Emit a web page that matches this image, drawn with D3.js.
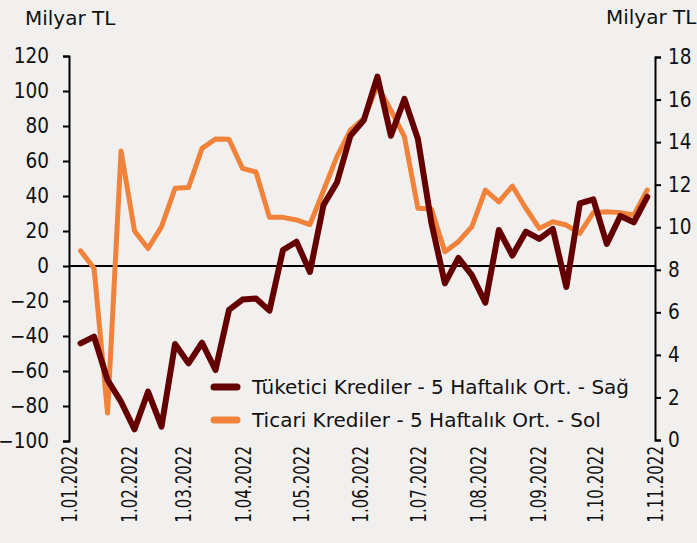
<!DOCTYPE html>
<html>
<head>
<meta charset="utf-8">
<script src="https://cdn.jsdelivr.net/npm/d3@7"></script>
<style>
  html, body { margin: 0; padding: 0; background: #f2f0ef; overflow: hidden; }
  svg { display: block; }
  text { font-family: "DejaVu Sans", "Liberation Sans", sans-serif; fill: #111; }
</style>
</head>
<body>
<script>
// ---- data ----
const weeks = [
  "2022-01-07","2022-01-14","2022-01-21","2022-01-28",
  "2022-02-04","2022-02-11","2022-02-18","2022-02-25",
  "2022-03-04","2022-03-11","2022-03-18","2022-03-25",
  "2022-04-01","2022-04-08","2022-04-15","2022-04-22","2022-04-29",
  "2022-05-06","2022-05-13","2022-05-20","2022-05-27",
  "2022-06-03","2022-06-10","2022-06-17","2022-06-24",
  "2022-07-01","2022-07-08","2022-07-15","2022-07-22","2022-07-29",
  "2022-08-05","2022-08-12","2022-08-19","2022-08-26",
  "2022-09-02","2022-09-09","2022-09-16","2022-09-23","2022-09-30",
  "2022-10-07","2022-10-14","2022-10-21","2022-10-28"
];
// Tüketici Krediler - 5 Haftalık Ort. (right axis)
const tuketici = [
  4.54, 4.86, 2.82, 1.80,
  0.50, 2.27, 0.63, 4.51,
  3.60, 4.57, 3.29, 6.11,
  6.60, 6.65, 6.08, 8.93, 9.32,
  7.90, 11.04, 12.10, 14.30,
  15.04, 17.08, 14.30, 16.03,
  14.15, 10.20, 7.36, 8.56, 7.75,
  6.45, 9.87, 8.67, 9.79,
  9.45, 9.92, 7.19, 11.12, 11.31,
  9.22, 10.53, 10.23, 11.43
];
// Ticari Krediler - 5 Haftalık Ort. (left axis)
const ticari = [
  8.7, -1.3, -84, 65.7,
  20, 10, 22.5, 44.4,
  44.8, 67.2, 72.6, 72.4,
  55.8, 53.7, 27.8, 27.8, 26.3,
  23.7, 43, 62.5, 77.7,
  84.4, 103, 89, 73.9,
  33, 32.5, 8.2, 13.9, 22.5,
  43.4, 36.7, 45.7, 33,
  21.5, 25.3, 23.4, 18.7, 30.5,
  31, 30.5, 29.1, 43.4
];
const leftTicks = [-100, -80, -60, -40, -20, 0, 20, 40, 60, 80, 100, 120];
const rightTicks = [0, 2, 4, 6, 8, 10, 12, 14, 16, 18];
const monthTicks = ["2022-01-01","2022-02-01","2022-03-01","2022-04-01","2022-05-01","2022-06-01",
                    "2022-07-01","2022-08-01","2022-09-01","2022-10-01","2022-11-01"];
const seriesNames = ["Tüketici Krediler - 5 Haftalık Ort. - Sağ", "Ticari Krediler - 5 Haftalık Ort. - Sol"];
const unitLabel = "Milyar TL";
const colors = { tuketici: "#640000", ticari: "#f0823a" };

// ---- chart ----
const W = 697, H = 543;
const condensed = '"DejaVu Sans Condensed", "DejaVu Sans", sans-serif';
const parse = d3.utcParse("%Y-%m-%d");
const svg = d3.select("body").append("svg").attr("width", W).attr("height", H);
svg.append("rect").attr("width", W).attr("height", H).attr("fill", "#f2f0ef");

const x = d3.scaleUtc().domain([parse("2022-01-01"), parse("2022-11-01")]).range([69, 655]);
const yL = d3.scaleLinear().domain([-100, 120]).range([441, 56]);
const yR = d3.scaleLinear().domain([0, 18]).range([440, 57]);

// left axis
const gL = svg.append("g").attr("transform", "translate(69,0)")
  .call(d3.axisLeft(yL).tickValues(leftTicks).tickSize(6).tickSizeOuter(6).tickPadding(14));
// right axis
const gR = svg.append("g").attr("transform", "translate(655,0)")
  .call(d3.axisRight(yR).tickValues(rightTicks).tickSize(6).tickSizeOuter(6).tickPadding(7));
[gL, gR].forEach(g => {
  g.select(".domain").attr("stroke", "#000").attr("stroke-width", 2);
  g.selectAll(".tick line").attr("stroke", "#000").attr("stroke-width", 2);
  g.selectAll(".tick text").attr("font-size", 20.5).attr("fill", "#111")
    .style("font-family", condensed);
});

// x labels
const gX = svg.append("g").attr("transform", "translate(0,441)")
  .call(d3.axisBottom(x).tickValues(monthTicks.map(parse)).tickSize(0).tickFormat(d3.utcFormat("%-d.%m.%Y")));
gX.select(".domain").remove();
gX.selectAll(".tick text")
  .attr("font-size", 21.5)
  .attr("fill", "#111")
  .style("font-family", condensed)
  .attr("text-anchor", "end")
  .attr("x", 0).attr("y", 0).attr("dy", "0.36em")
  .attr("transform", "translate(0,5) rotate(-90) scale(0.78,1)");

// zero line
svg.append("line")
  .attr("x1", 69).attr("x2", 655)
  .attr("y1", yL(0)).attr("y2", yL(0))
  .attr("stroke", "#000").attr("stroke-width", 2);

// lines
const lineL = d3.line().x((d, i) => x(parse(weeks[i]))).y(d => yL(d));
const lineR = d3.line().x((d, i) => x(parse(weeks[i]))).y(d => yR(d));
svg.append("path").datum(ticari).attr("d", lineL)
  .attr("fill", "none").attr("stroke", colors.ticari).attr("stroke-width", 5)
  .attr("stroke-linejoin", "round").attr("stroke-linecap", "round");
svg.append("path").datum(tuketici).attr("d", lineR)
  .attr("fill", "none").attr("stroke", colors.tuketici).attr("stroke-width", 6)
  .attr("stroke-linejoin", "round").attr("stroke-linecap", "round");

// unit labels
svg.append("text").attr("x", 25).attr("y", 25).attr("font-size", 20).text(unitLabel);
svg.append("text").attr("x", 606).attr("y", 24).attr("font-size", 20).text(unitLabel);

// legend
const legend = svg.append("g");
[[seriesNames[0], colors.tuketici, 387], [seriesNames[1], colors.ticari, 420]].forEach(([name, c, yy]) => {
  legend.append("line").attr("x1", 214).attr("x2", 237).attr("y1", yy).attr("y2", yy)
    .attr("stroke", c).attr("stroke-width", 7).attr("stroke-linecap", "round");
  legend.append("text").attr("x", 252).attr("y", yy).attr("dy", "0.35em")
    .attr("font-size", 20).text(name);
});
</script>
</body>
</html>
